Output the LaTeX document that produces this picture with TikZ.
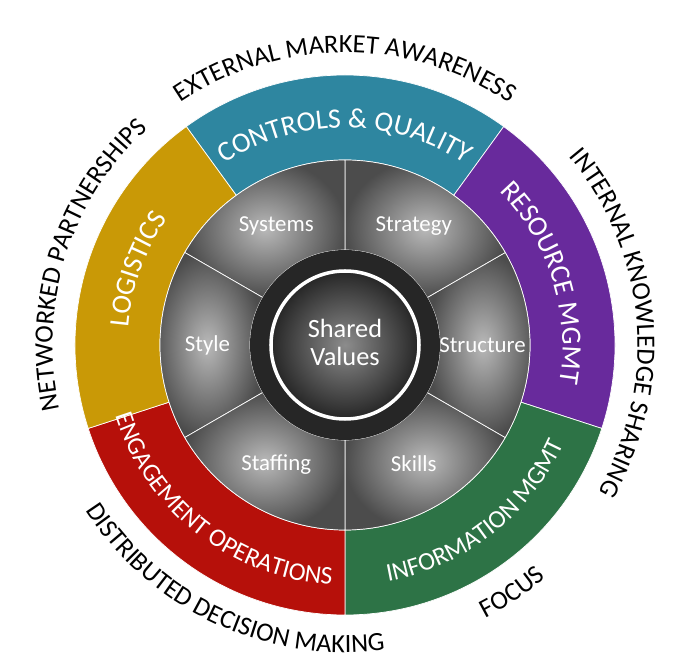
\documentclass[tikz,border=0pt]{standalone}
\usepackage{fontspec}
\setmainfont{Carlito}
\usetikzlibrary{decorations.text}
\colorlet{ctrlcol}{rgb,255:red,46;green,134;blue,160}
\colorlet{rescol}{rgb,255:red,104;green,42;blue,156}
\colorlet{infocol}{rgb,255:red,45;green,115;blue,70}
\colorlet{engcol}{rgb,255:red,182;green,16;blue,10}
\colorlet{logcol}{rgb,255:red,201;green,153;blue,6}

\begin{document}
\begin{tikzpicture}[
        ringtext/.style={decorate,decoration={text along path,text align=center,
            text={|\fontsize{16}{16}\selectfont\color{white}|#1}}},
        smallring/.style={decorate,decoration={text along path,text align=center,
            text={|\fontsize{14.5}{15}\selectfont\color{white}|#1}}},
        outtext/.style={decorate,decoration={text along path,text align=center,
            text={|\fontsize{15}{15}\selectfont|#1}}},
        cog/.style={text=white,font=\fontsize{13}{13}\selectfont}
    ]
    \useasboundingbox (-6.9,-6.5) rectangle (6.9,6.9);
    % outer ring
    \foreach \a/\b/\c in {54/126/ctrlcol,-18/54/rescol,-90/-18/infocol,
                          198/270/engcol,126/198/logcol}
        \fill [\c,draw=white,thin] (\a:3.7)
            arc [start angle=\a,end angle=\b,radius=3.7]
            -- (\b:5.4)
            arc [start angle=\b,end angle=\a,radius=5.4]
            -- cycle
        ;
    % inner ring
    \foreach \a in {-90,-30,...,210}
        \shade [inner color=gray!55,outer color=black!70,draw=white,thin]
            (\a:1.9)
            arc [start angle=\a,end angle=\a+60,radius=1.9]
            -- ({\a+60}:3.7)
            arc [start angle=\a+60,end angle=\a,radius=3.7]
            -- cycle
        ;
    \foreach \t/\ang in {Systems/120,Strategy/60,Structure/0,
                         Skills/-60,Staffing/-120,Style/180}
        \node [cog] (s-\t) at (\ang:2.75) {\t};
    % centre
    \fill [black!85] (0,0) circle (1.9);
    \shade [inner color=black!45,outer color=black!85,draw=white,line width=2pt]
        (0,0) circle (1.48);
    \node [cog,font=\fontsize{15}{16}\selectfont,align=center] (core)
        at (0,0.05) {Shared\\Values};
    % ring labels
    \path [ringtext={CONTROLS {\&} QUALITY}] (150:4.35) arc [start angle=150,end angle=30,radius=4.35];
    \path [ringtext={RESOURCE MGMT}] (75:4.35) arc [start angle=75,end angle=-40,radius=4.35];
    \path [smallring={INFORMATION MGMT}] (-110:4.8) arc [start angle=-110,end angle=6,radius=4.8];
    \path [smallring={ENGAGEMENT OPERATIONS}] (170:4.8) arc [start angle=170,end angle=294,radius=4.8];
    \path [ringtext={LOGISTICS}] (210:4.35) arc [start angle=210,end angle=110,radius=4.35];
    % outer labels
    \path [outtext={EXTERNAL MARKET AWARENESS}] (160:5.85) arc [start angle=160,end angle=20,radius=5.85];
    \path [outtext={INTERNAL KNOWLEDGE SHARING}] (65:5.85) arc [start angle=65,end angle=-55,radius=5.85];
    \path [outtext={FOCUS}] (-85:6.15) arc [start angle=-85,end angle=-27,radius=6.15];
    \path [outtext={DISTRIBUTED DECISION MAKING}] (195:6.15) arc [start angle=195,end angle=295,radius=6.15];
    \path [outtext={NETWORKED PARTNERSHIPS}] (215:5.85) arc [start angle=215,end angle=110,radius=5.85];
\end{tikzpicture}
\end{document}
